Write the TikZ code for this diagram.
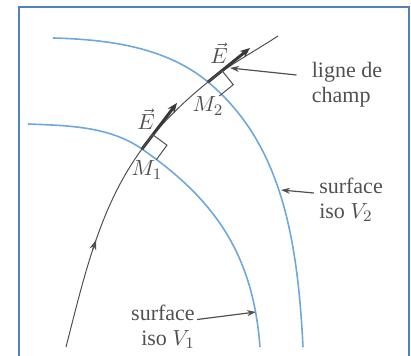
\documentclass[tikz,border=0pt]{standalone}
\usepackage{amsmath}
\usepackage{fontspec}
\setmainfont{Liberation Serif}
\usetikzlibrary{arrows.meta,calc}
\definecolor{bleucadre}{HTML}{4F81BD}
\definecolor{bleuiso}{HTML}{6FA8DC}
\definecolor{gris}{HTML}{505050}

\begin{document}
\begin{tikzpicture}[x=0.5pt,y=-0.5pt,font=\fontsize{11}{12.5}\selectfont,
  every node/.style={text=gris},
  cadre/.style={draw=bleucadre,line width=1pt},
  equi/.style={draw=bleuiso,line width=0.8pt},
  champ/.style={draw=gris,line width=0.5pt},
  vecE/.style={draw=gris!70!black,line width=1.5pt,-{Stealth[length=5pt,width=4pt]}},
  droit/.style={draw=gris,line width=0.5pt},
  etiq/.style={inner sep=1pt},
  rep/.style={draw=gris,line width=0.6pt,-{Stealth[length=4.5pt,width=3pt]}}]
\useasboundingbox (0,0) rectangle (411,356);
\draw[cadre] (18.5,356) -- (18.5,7) -- (408.5,7) -- (408.5,356);
\coordinate (M1) at (142,149);
\coordinate (M2) at (208,82);
% surfaces iso
\draw[equi] (28,124) .. controls (68,125.6) and (109.2,126.2) .. (M1)
  .. controls (215.8,200.3) and (253,255) .. (260,347);
\draw[equi] (53,38) .. controls (108,39.5) and (165.6,46.8) .. (M2)
  .. controls (281,143) and (297.5,237) .. (303,347);
% ligne de champ
\draw[champ] (66,347) .. controls (84,277.2) and (99.5,206.6) .. (M1)
  .. controls (160.3,124.2) and (183.8,101.5) .. (M2)
  .. controls (229.8,64.4) and (254.5,51.4) .. (278,36);
\draw[champ,-{Stealth[length=5pt,width=3.5pt]}] (92.3,251) -- (96,240);
\draw[vecE] (M1) -- ++(35,-46);
\draw[vecE] (M2) -- ++(42,-34);
\draw[droit] (M1) -- ++(10.6,-14.4) -- ++(14.4,10.6) -- ++(-10.6,14.4);
\draw[droit] (M2) -- ++(14,-11.3) -- ++(11.3,14) -- ++(-14,11.3);
% textes
\node (E1) at (146,119) {$\vec{E}$};
\node (E2) at (219,53) {$\vec{E}$};
\node (M1lab) at (147,170) {$M_1$};
\node (M2lab) at (208,106) {$M_2$};
\node[etiq,align=left] (lignelab) at (347,85) {ligne de\\champ};
\node[etiq,align=left] (iso2) at (351,200) {surface\\iso $V_2$};
\node[etiq,align=right] (iso1) at (163,327) {surface\\iso $V_1$};
% reperes
\coordinate (p0) at (230,68);
\coordinate (p2) at (281,190);
\coordinate (p1) at (256,312);
\draw[rep] ([shift={(-13,-10)}]lignelab.west) -- (p0);
\draw[rep] ([shift={(-3,-7)}]iso2.west) -- (p2);
\draw[rep] ([shift={(0,-7.5)}]iso1.east) -- (p1);
\end{tikzpicture}
\end{document}
